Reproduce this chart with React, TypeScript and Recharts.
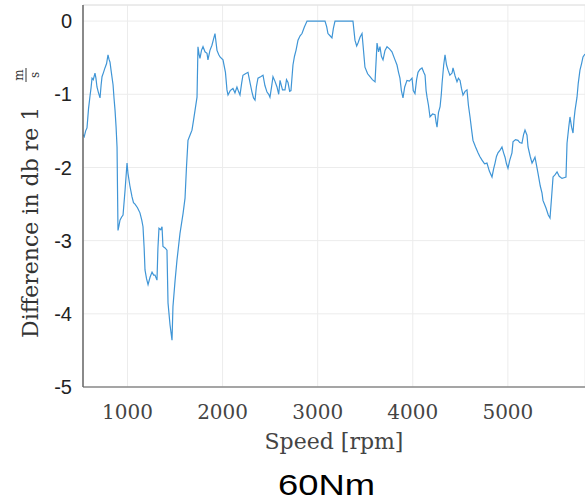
import React from "react"
import { LineChart, Line, XAxis, YAxis, CartesianGrid, Label, ReferenceLine } from "recharts"

// speed sweep [rpm] and level difference [dB re 1 m/s]
const speedRpm = [
  532, 545, 560, 574, 590, 606, 616, 627, 640, 658, 668, 679, 695, 711, 722, 732, 748, 763, 780, 795,
  805, 816, 830, 848, 858, 869, 880, 890, 895, 900, 910, 921, 937, 953, 975, 995, 1005, 1025, 1047, 1063,
  1079, 1105, 1131, 1150, 1163, 1175, 1184, 1200, 1216, 1237, 1258, 1275, 1289, 1310, 1320, 1331, 1350, 1363, 1373, 1395,
  1415, 1426, 1447, 1468, 1478, 1500, 1520, 1552, 1584, 1605, 1620, 1636, 1660, 1678, 1695, 1710, 1731, 1741, 1752, 1762,
  1778, 1794, 1815, 1836, 1846, 1867, 1888, 1904, 1920, 1941, 1960, 1973, 2004, 2030, 2046, 2057, 2080, 2109, 2130, 2151,
  2170, 2183, 2200, 2214, 2240, 2267, 2290, 2309, 2325, 2341, 2355, 2372, 2400, 2425, 2445, 2467, 2485, 2498, 2515, 2530,
  2550, 2572, 2590, 2604, 2630, 2656, 2672, 2688, 2705, 2719, 2740, 2756, 2772, 2793, 2815, 2835, 2860, 2888, 3077, 3095,
  3108, 3130, 3150, 3165, 3182, 3371, 3392, 3410, 3424, 3445, 3466, 3477, 3497, 3525, 3550, 3575, 3603, 3614, 3624, 3640,
  3655, 3670, 3687, 3708, 3729, 3755, 3781, 3810, 3834, 3850, 3865, 3880, 3897, 3915, 3939, 3965, 3992, 4005, 4023, 4040,
  4055, 4075, 4097, 4115, 4129, 4140, 4150, 4165, 4181, 4208, 4234, 4245, 4255, 4270, 4287, 4300, 4308, 4325, 4339, 4355,
  4371, 4390, 4413, 4423, 4445, 4465, 4480, 4497, 4512, 4528, 4550, 4570, 4585, 4602, 4620, 4633, 4660, 4686, 4705, 4728,
  4755, 4780, 4805, 4833, 4850, 4865, 4880, 4896, 4920, 4938, 4955, 4970, 4985, 5001, 5020, 5043, 5054, 5080, 5106, 5125,
  5148, 5165, 5180, 5201, 5212, 5235, 5254, 5270, 5285, 5300, 5317, 5340, 5359, 5369, 5400, 5425, 5443, 5460, 5475, 5495,
  5517, 5540, 5569, 5590, 5611, 5622, 5640, 5653, 5670, 5685, 5695, 5706, 5727, 5740, 5758, 5775, 5790, 5811,
]

const diffDb = [
  -1.55, -1.58, -1.5, -1.46, -1.2, -1.02, -0.92, -0.78, -0.8, -0.71, -0.78, -0.9, -0.98, -1.05, -0.88, -0.76, -0.7, -0.64, -0.58, -0.46,
  -0.52, -0.56, -0.7, -0.87, -1.05, -1.22, -1.45, -1.72, -2.3, -2.86, -2.8, -2.72, -2.68, -2.65, -2.3, -1.94, -2.08, -2.25, -2.4, -2.48,
  -2.5, -2.55, -2.62, -2.72, -2.81, -3.1, -3.4, -3.52, -3.6, -3.5, -3.43, -3.47, -3.47, -3.54, -3.1, -2.83, -2.85, -2.81, -3.08, -3.1,
  -3.13, -3.85, -4.15, -4.36, -3.9, -3.55, -3.27, -2.9, -2.63, -2.42, -2.0, -1.63, -1.55, -1.49, -1.35, -1.22, -1.04, -0.35, -0.45, -0.51,
  -0.4, -0.35, -0.42, -0.44, -0.53, -0.4, -0.33, -0.25, -0.17, -0.4, -0.46, -0.49, -0.53, -0.7, -0.94, -1.01, -0.95, -0.92, -0.98, -0.9,
  -0.97, -1.01, -0.85, -0.74, -0.72, -0.7, -0.85, -0.97, -1.05, -1.08, -0.9, -0.78, -0.76, -0.74, -0.88, -0.97, -1.0, -1.04, -0.9, -0.76,
  -0.82, -0.9, -1.0, -0.81, -0.94, -0.94, -0.8, -0.84, -0.96, -0.95, -0.6, -0.48, -0.4, -0.26, -0.2, -0.17, -0.08, 0, 0, -0.08,
  -0.17, -0.2, -0.23, -0.1, 0, 0, -0.26, -0.34, -0.3, -0.22, -0.17, -0.33, -0.63, -0.72, -0.76, -0.8, -0.83, -0.55, -0.3, -0.42,
  -0.35, -0.48, -0.53, -0.4, -0.35, -0.38, -0.42, -0.52, -0.6, -0.7, -0.78, -0.95, -1.05, -0.9, -0.81, -0.82, -0.78, -0.95, -0.99, -0.8,
  -0.7, -0.66, -0.64, -0.7, -0.74, -0.95, -1.04, -1.15, -1.31, -1.27, -1.28, -1.38, -1.45, -1.25, -1.17, -1.0, -0.85, -0.6, -0.46, -0.6,
  -0.67, -0.74, -0.71, -0.64, -0.75, -0.83, -0.78, -0.81, -0.92, -1.01, -0.96, -0.94, -1.15, -1.31, -1.5, -1.63, -1.72, -1.8, -1.85, -1.9,
  -1.95, -1.94, -2.05, -2.13, -2.02, -1.94, -1.85, -1.8, -1.76, -1.72, -1.8, -1.86, -1.95, -2.01, -1.9, -1.8, -1.65, -1.62, -1.63, -1.66,
  -1.67, -1.55, -1.49, -1.56, -1.72, -1.85, -1.94, -1.9, -1.86, -1.96, -2.08, -2.25, -2.35, -2.45, -2.55, -2.65, -2.69, -2.4, -2.13, -2.1,
  -2.06, -2.12, -2.15, -2.14, -2.13, -1.67, -1.45, -1.31, -1.45, -1.53, -1.35, -1.22, -1.04, -0.85, -0.67, -0.58, -0.49, -0.45,
]

const xTicks = [1000, 2000, 3000, 4000, 5000]
const yTicks = [0, -1, -2, -3, -4, -5]

const data = speedRpm.map((s, i) => ({ speed: s, diff: diffDb[i] }))

const serif = "'DejaVu Serif', serif"
const sans = "'Liberation Sans', Arial, sans-serif"

// rotated y label with the m/s fraction
const YLabel = (props: any) => {
  const vb = props.viewBox || { x: 0, y: 0, width: 83, height: 382 }
  const cx = vb.x + 38
  const cy = vb.y + vb.height / 2
  return (
    <g transform={`translate(${cx},${cy}) rotate(-90)`} fill="#333" fontFamily={serif}>
      <text x={-142} y={0} fontSize={22}>
        Difference in db re 1
      </text>
      <text x={121} y={-15} fontSize={12} textAnchor="middle">
        m
      </text>
      <line x1={114} x2={128} y1={-12} y2={-12} stroke="#333" strokeWidth={1} />
      <text x={121} y={1} fontSize={12} textAnchor="middle">
        s
      </text>
    </g>
  )
}

export default function App() {
  return (
    <div style={{ position: "absolute", left: 0, top: 0, width: 585, height: 500, background: "#fff" }}>
      <LineChart width={585} height={500} data={data} margin={{ top: 5, right: 0, bottom: 0, left: 0 }}>
        <CartesianGrid stroke="#ececec" strokeWidth={1} />
        <XAxis
          dataKey="speed"
          type="number"
          domain={[532, 5811]}
          ticks={xTicks}
          allowDataOverflow
          height={113}
          axisLine={{ stroke: "#8a8a8a", strokeWidth: 1.5 }}
          tickLine={false}
          tickSize={0}
          tickMargin={18}
          tick={{ fill: "#444", fontSize: 20, fontFamily: serif }}
        >
          <Label
            value="Speed [rpm]"
            position="insideTop"
            offset={46}
            style={{ fill: "#444", fontSize: 22, fontFamily: serif }}
          />
        </XAxis>
        <YAxis
          type="number"
          domain={[-5, 0.22]}
          ticks={yTicks}
          allowDataOverflow
          width={83}
          axisLine={{ stroke: "#666", strokeWidth: 1.5 }}
          tickLine={false}
          tickSize={0}
          tickMargin={11}
          tick={{ fill: "#222", fontSize: 20, fontFamily: sans }}
        >
          <Label content={YLabel} />
        </YAxis>
        <ReferenceLine y={0.22} stroke="#e2e2e2" />
        <Line
          type="linear"
          dataKey="diff"
          stroke="#3f95d6"
          strokeWidth={1.2}
          dot={false}
          isAnimationActive={false}
        />
      </LineChart>
      <svg width={585} height={40} style={{ position: "absolute", left: 0, top: 462 }}>
        <text x={278} y={33} fontSize={30} fontFamily={sans} fill="#000" textLength={97} lengthAdjust="spacingAndGlyphs">
          60Nm
        </text>
      </svg>
    </div>
  )
}
